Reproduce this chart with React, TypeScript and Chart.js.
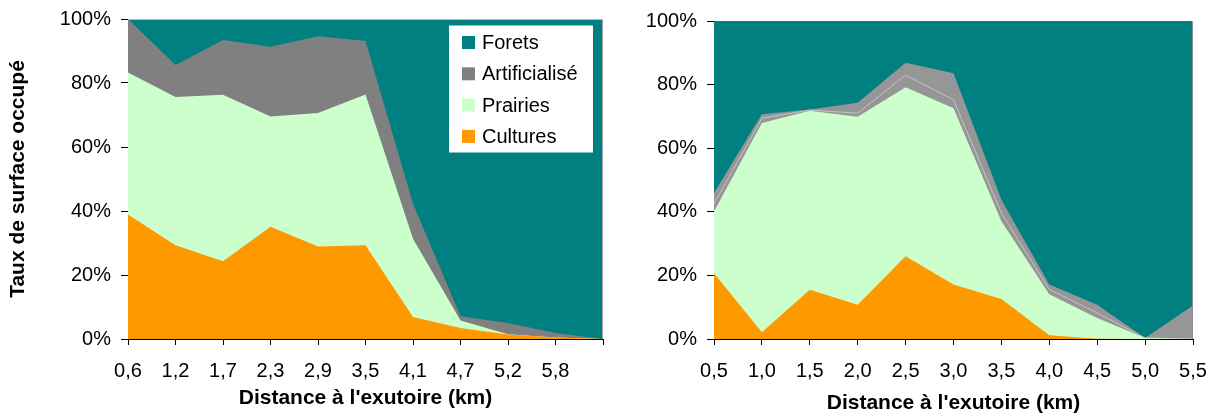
import React, { useEffect, useRef } from 'react';
import { Chart, registerables } from 'chart.js';

Chart.register(...registerables);

// ---------- Data ----------
const leftCategories = ['0,6', '1,2', '1,7', '2,3', '2,9', '3,5', '4,1', '4,7', '5,2', '5,8', ''];
const leftCultures = [38.9, 29.3, 24.3, 35.1, 28.9, 29.3, 6.9, 3.4, 1.4, 0.5, 0];
const leftPrairies = [44.4, 46.3, 52.0, 34.4, 41.7, 47.1, 24.4, 2.4, 0.1, 0, 0];
const leftArtificialise = [16.7, 10.0, 17.1, 21.8, 24.0, 16.7, 11.0, 1.3, 3.5, 1.4, 0];
const leftForets = [0, 14.4, 6.6, 8.7, 5.4, 6.9, 57.7, 92.9, 95.0, 98.1, 100];

const rightCategories = ['0,5', '1,0', '1,5', '2,0', '2,5', '3,0', '3,5', '4,0', '4,5', '5,0', '5,5'];
const rightCultures = [20.7, 2.1, 15.5, 10.8, 26.0, 17.1, 12.6, 1.2, 0.1, 0, 0];
const rightPrairies = [19.4, 65.8, 56.3, 59.1, 53.2, 55.5, 24.4, 12.9, 6.5, 0.3, 0];
const rightArtificialise = [2.4, 1.5, 0.2, 1.1, 3.8, 2.6, 2.6, 1.5, 1.6, 0, 0];
const rightAutres = [3.4, 1.3, 0.2, 3.3, 3.9, 8.4, 4.2, 1.5, 2.6, 0, 10.5];
const rightForets = [54.1, 29.3, 27.8, 25.7, 13.1, 16.4, 56.2, 82.9, 89.2, 99.7, 89.5];

const yTickValues = [0, 20, 40, 60, 80, 100];

const xTitle = "Distance à l'exutoire (km)";
const yTitle = 'Taux de surface occupé';

const COLORS = {
  forets: '#008080',
  artif: '#808080',
  artifLight: '#969696',
  prairies: '#CCFFCC',
  cultures: '#FF9900',
};

const FONT = "'Liberation Sans', Arial, Helvetica, sans-serif";

// ---------- helpers ----------
function ds(label: string, data: number[], color: string, extra: any = {}) {
  return {
    label,
    data,
    backgroundColor: color,
    borderColor: 'rgba(0,0,0,0)',
    borderWidth: 0,
    fill: 'origin',
    pointRadius: 0,
    pointHoverRadius: 0,
    tension: 0,
    ...extra,
  };
}

function framePlugin(topColor: string, rightColor: string) {
  return {
    id: 'frameLines',
    afterDraw(chart: any) {
      const { ctx, chartArea } = chart;
      const { left, right, top, bottom } = chartArea;
      ctx.save();
      ctx.lineWidth = 1;
      ctx.strokeStyle = topColor;
      ctx.beginPath();
      ctx.moveTo(left, Math.round(top) + 0.5);
      ctx.lineTo(right, Math.round(top) + 0.5);
      ctx.stroke();
      ctx.strokeStyle = rightColor;
      ctx.beginPath();
      ctx.moveTo(Math.round(right) - 0.5, top);
      ctx.lineTo(Math.round(right) - 0.5, bottom);
      ctx.stroke();
      ctx.restore();
    },
  };
}

const legendPlugin = {
  id: 'insideLegend',
  afterDraw(chart: any) {
    const { ctx, chartArea } = chart;
    const boxRight = chartArea.right - 10;
    const boxLeft = boxRight - 144;
    const boxTop = chartArea.top + 6.5;
    const boxH = 127;
    ctx.save();
    ctx.fillStyle = '#ffffff';
    ctx.fillRect(boxLeft, boxTop, boxRight - boxLeft, boxH);
    const items = [...chart.data.datasets].reverse();
    ctx.font = `20px ${FONT}`;
    ctx.textBaseline = 'middle';
    ctx.textAlign = 'left';
    items.forEach((d: any, i: number) => {
      const cy = boxTop + 17 + i * 31.3;
      ctx.fillStyle = d.backgroundColor;
      ctx.fillRect(boxLeft + 13, cy - 6.5, 13, 13);
      ctx.fillStyle = '#000';
      ctx.fillText(d.label, boxLeft + 33, cy + 1);
    });
    ctx.restore();
  },
};

function makeConfig(p: {
  labels: string[];
  datasets: any[];
  yWidth: number;
  xHeight: number;
  padding: any;
  showYTitle: boolean;
  xTitlePadBottom: number;
  plugins: any[];
}) {
  return {
    type: 'line' as const,
    data: { labels: p.labels, datasets: p.datasets },
    plugins: p.plugins,
    options: {
      animation: false,
      responsive: false,
      devicePixelRatio: 1,
      layout: { padding: p.padding },
      plugins: {
        legend: { display: false },
        tooltip: { enabled: false },
      },
      elements: {
        line: { tension: 0 },
        point: { radius: 0 },
      },
      scales: {
        x: {
          type: 'category',
          offset: false,
          z: 1,
          grid: {
            display: true,
            drawOnChartArea: false,
            drawTicks: true,
            tickLength: 6,
            color: '#000',
            lineWidth: 1,
          },
          border: { display: true, color: '#000', width: 1 },
          ticks: {
            color: '#000',
            font: { family: FONT, size: 20 },
            padding: 14,
            maxRotation: 0,
            minRotation: 0,
            autoSkip: false,
          },
          title: {
            display: true,
            text: xTitle,
            color: '#000',
            font: { family: FONT, size: 21, weight: 'bold', lineHeight: 1 },
            padding: { top: 0, bottom: p.xTitlePadBottom },
          },
          afterFit: (s: any) => {
            s.height = p.xHeight;
            s.paddingLeft = 0;
            s.paddingRight = 0;
          },
        },
        y: {
          stacked: true,
          min: 0,
          max: 100,
          z: 1,
          afterBuildTicks: (s: any) => {
            s.ticks = yTickValues.map((v) => ({ value: v }));
          },
          grid: {
            display: true,
            drawOnChartArea: false,
            drawTicks: true,
            tickLength: 7,
            color: '#000',
            lineWidth: 1,
          },
          border: { display: true, color: '#000', width: 1 },
          ticks: {
            color: '#000',
            font: { family: FONT, size: 20 },
            padding: 10,
            callback: (v: any) => `${v}%`,
          },
          title: {
            display: p.showYTitle,
            text: yTitle,
            color: '#000',
            font: { family: FONT, size: 21, weight: 'bold', lineHeight: 1 },
            padding: { top: 8, bottom: 0 },
          },
          afterFit: (s: any) => {
            s.width = p.yWidth;
            s.paddingTop = 0;
            s.paddingBottom = 0;
          },
        },
      },
    },
  };
}

function ChartCanvas({ config, width, height }: { config: any; width: number; height: number }) {
  const ref = useRef<HTMLCanvasElement | null>(null);
  useEffect(() => {
    if (!ref.current) return;
    const chart = new Chart(ref.current, config);
    return () => chart.destroy();
  }, [config]);
  return <canvas ref={ref} width={width} height={height} style={{ width, height, display: 'block' }} />;
}

const leftConfig = makeConfig({
  labels: leftCategories,
  datasets: [
    ds('Cultures', leftCultures, COLORS.cultures),
    ds('Prairies', leftPrairies, COLORS.prairies),
    ds('Artificialisé', leftArtificialise, COLORS.artif),
    ds('Forets', leftForets, COLORS.forets),
  ],
  yWidth: 128,
  xHeight: 75,
  padding: { top: 19, right: 7, bottom: 0, left: 0 },
  showYTitle: true,
  xTitlePadBottom: 5,
  plugins: [framePlugin('#c0c0c0', '#a0a0a0'), legendPlugin],
});

const rightConfig = makeConfig({
  labels: rightCategories,
  datasets: [
    ds('Cultures', rightCultures, COLORS.cultures),
    ds('Prairies', rightPrairies, COLORS.prairies),
    ds('Artificialisé', rightArtificialise, COLORS.artifLight, {
      borderColor: '#c4c4c4',
      borderWidth: 1,
    }),
    ds('Autres', rightAutres, COLORS.artifLight),
    ds('Forets', rightForets, COLORS.forets),
  ],
  yWidth: 104,
  xHeight: 75,
  padding: { top: 21, right: 23, bottom: 0, left: 0 },
  showYTitle: false,
  xTitlePadBottom: 0,
  plugins: [framePlugin('#606060', '#909090')],
});

export default function App() {
  return (
    <div
      style={{
        position: 'fixed',
        left: 0,
        top: 0,
        width: 1216,
        height: 414,
        background: '#ffffff',
        overflow: 'hidden',
      }}
    >
      <div style={{ position: 'absolute', left: 0, top: 0 }}>
        <ChartCanvas config={leftConfig} width={610} height={414} />
      </div>
      <div style={{ position: 'absolute', left: 610, top: 0 }}>
        <ChartCanvas config={rightConfig} width={606} height={414} />
      </div>
    </div>
  );
}
